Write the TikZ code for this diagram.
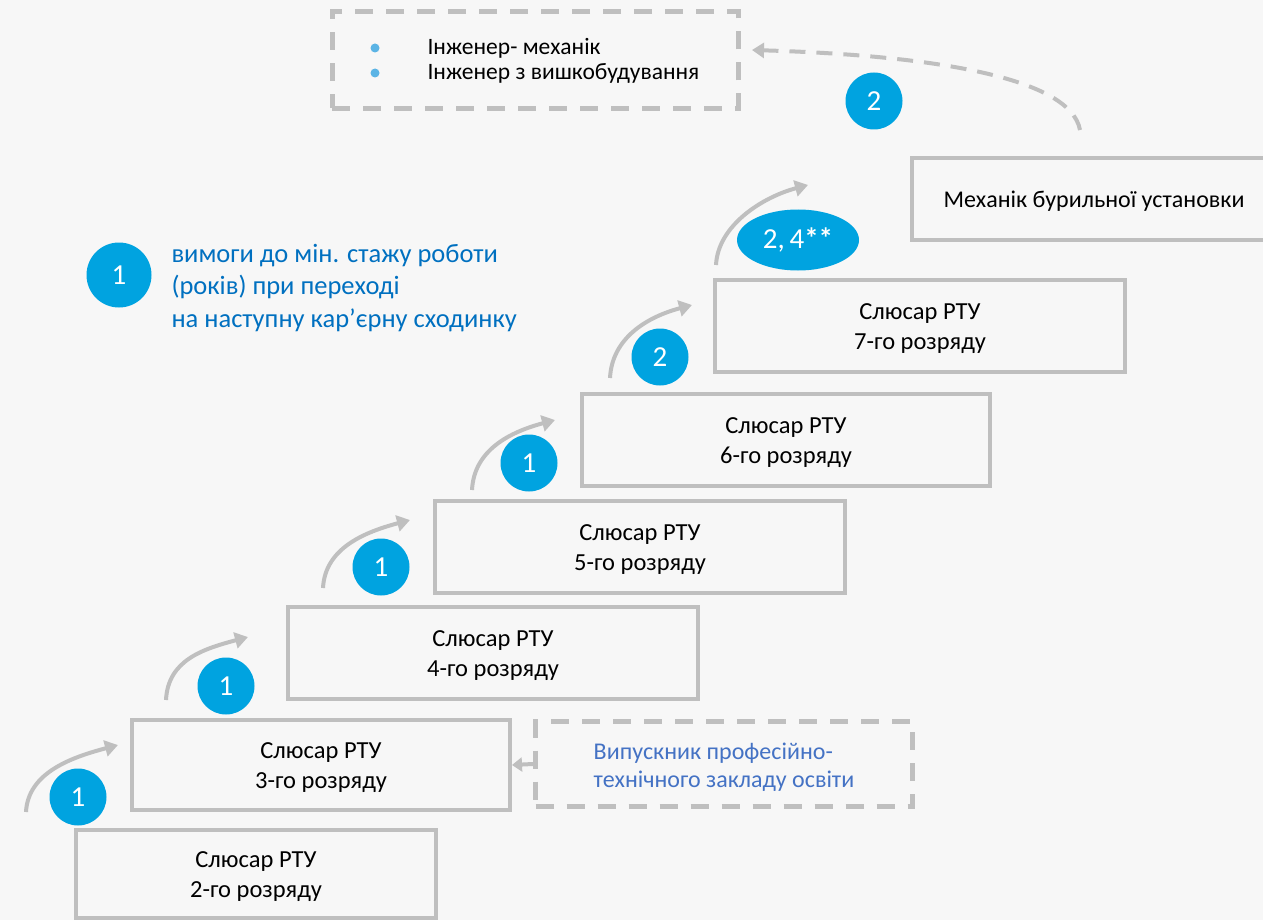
\documentclass[tikz,border=0pt]{standalone}
\usepackage{fontspec}
\setmainfont{Carlito}
\usetikzlibrary{arrows.meta,shapes.geometric,calc}
\definecolor{bg}{HTML}{F7F7F7}
\definecolor{framegray}{HTML}{BFBFBF}
\definecolor{stepblue}{HTML}{00A3E0}
\definecolor{textblue}{HTML}{0070C0}
\definecolor{gradblue}{HTML}{4472C4}
\definecolor{dotblue}{HTML}{5BB4E5}
\newcommand{\capstrut}{\rule{0pt}{21pt}}

\tikzset{
	rank/.style={draw=framegray, line width=4pt, minimum width=410pt, minimum height=92pt, align=center, inner sep=0pt, font=\fontsize{24.5}{30}\selectfont},
	years/.style={circle, fill=stepblue, text=white, minimum size=57pt, inner sep=0pt, font=\fontsize{29}{29}\selectfont},
	climb/.style={draw=framegray, line width=4pt, -{Triangle[length=13pt,width=16pt]}},
	dashbox/.style={draw=framegray, line width=5pt, dash pattern=on 18pt off 13pt},
	dot/.style={circle, fill=dotblue, minimum size=9pt, inner sep=0pt}
}

\begin{document}
\begin{tikzpicture}[x=1pt, y=-1pt]
	\useasboundingbox (0,0) rectangle (1263,920);
	\clip (0,0) rectangle (1263,920);
	\fill[bg] (0,0) rectangle (1263,920);

	% steps
	\node (r2) [rank, minimum width=360pt, minimum height=88pt] at (256, 874) {\capstrut Слюсар РТУ\\2-го розряду};
	\node (r3) [rank, minimum width=378pt, minimum height=90pt] at (321, 765) {\capstrut Слюсар РТУ\\3-го розряду};
	\node (r4) [rank] at (493, 653) {\capstrut Слюсар РТУ\\4-го розряду};
	\node (r5) [rank] at (640, 547) {\capstrut Слюсар РТУ\\5-го розряду};
	\node (r6) [rank, minimum width=408pt] at (786, 440) {\capstrut Слюсар РТУ\\6-го розряду};
	\node (r7) [rank] at (920, 326) {\capstrut Слюсар РТУ\\7-го розряду};
	\node (mech) [draw=framegray, line width=4pt, minimum width=376pt, minimum height=82pt] at (1100, 199) {};
	\node (mechtext) [font=\fontsize{24}{24}\selectfont] at (1094, 201) {Механік бурильної установки};

	% engineer box
	\node (eng) [dashbox, minimum width=406pt, minimum height=97pt] at (535, 60) {};
	\node (dot1) [dot] at (375, 48) {};
	\node (dot2) [dot] at (375, 73) {};
	\node (engtext) [anchor=west, align=left, font=\fontsize{23.5}{25}\selectfont] at (424, 61) {Інженер- механік\\Інженер з вишкобудування};

	% graduate box
	\node (grad) [dashbox, minimum width=377pt, minimum height=85pt] at (724, 764) {};
	\node (gradtext) [align=left, text=gradblue, font=\fontsize{24}{28}\selectfont] at (724, 767) {Випускник професійно-\\технічного закладу освіти};
	\draw[draw=framegray, line width=4pt, -{Triangle[length=10pt,width=14pt]}] (grad.west) -- (r3.east);

	% climbing arrows
	\coordinate (a1) at (26, 812);  \coordinate (b1) at (118, 745);
	\coordinate (a2) at (166, 700); \coordinate (b2) at (248, 637);
	\coordinate (a3) at (323, 588); \coordinate (b3) at (410, 520);
	\coordinate (a4) at (472, 490); \coordinate (b4) at (555, 420);
	\coordinate (a5) at (610, 378); \coordinate (b5) at (692, 305);
	\coordinate (a6) at (716, 265); \coordinate (b6) at (808, 185);
	\foreach \i in {1,...,6}
		\draw[climb] (a\i) .. controls ($(a\i)+(2,-40)$) and ($(b\i)+(-45,12)$) .. (b\i);

	\node (y1) [years] at (78, 797) {1};
	\node (y2) [years] at (226, 686) {1};
	\node (y3) [years] at (381, 567) {1};
	\node (y4) [years] at (529, 463) {1};
	\node (y5) [years] at (660, 357) {2};
	\node (y6) [ellipse, fill=stepblue, text=white, minimum width=122pt, minimum height=61pt, inner sep=0pt, font=\fontsize{29}{29}\selectfont] at (798, 240) {2,\,4\textbf{**}};

	% to engineer
	\coordinate (up) at (1080, 130);
	\coordinate (tip) at (752, 50);
	\draw[draw=framegray, line width=4pt, dash pattern=on 16pt off 11pt, -{Triangle[length=12pt,width=15pt]}] (up) .. controls (1070, 75) and (920, 55) .. (tip);
	\node (y7) [years] at (874, 101) {2};

	% legend
	\node (key) [years, minimum size=65pt] at (119, 275) {1};
	\node (keytext) [anchor=west, align=left, text=textblue, font=\fontsize{26.5}{32.5}\selectfont] at (168, 288) {вимоги до мін. стажу роботи\\(років) при переході\\на наступну кар’єрну сходинку};
\end{tikzpicture}
\end{document}
